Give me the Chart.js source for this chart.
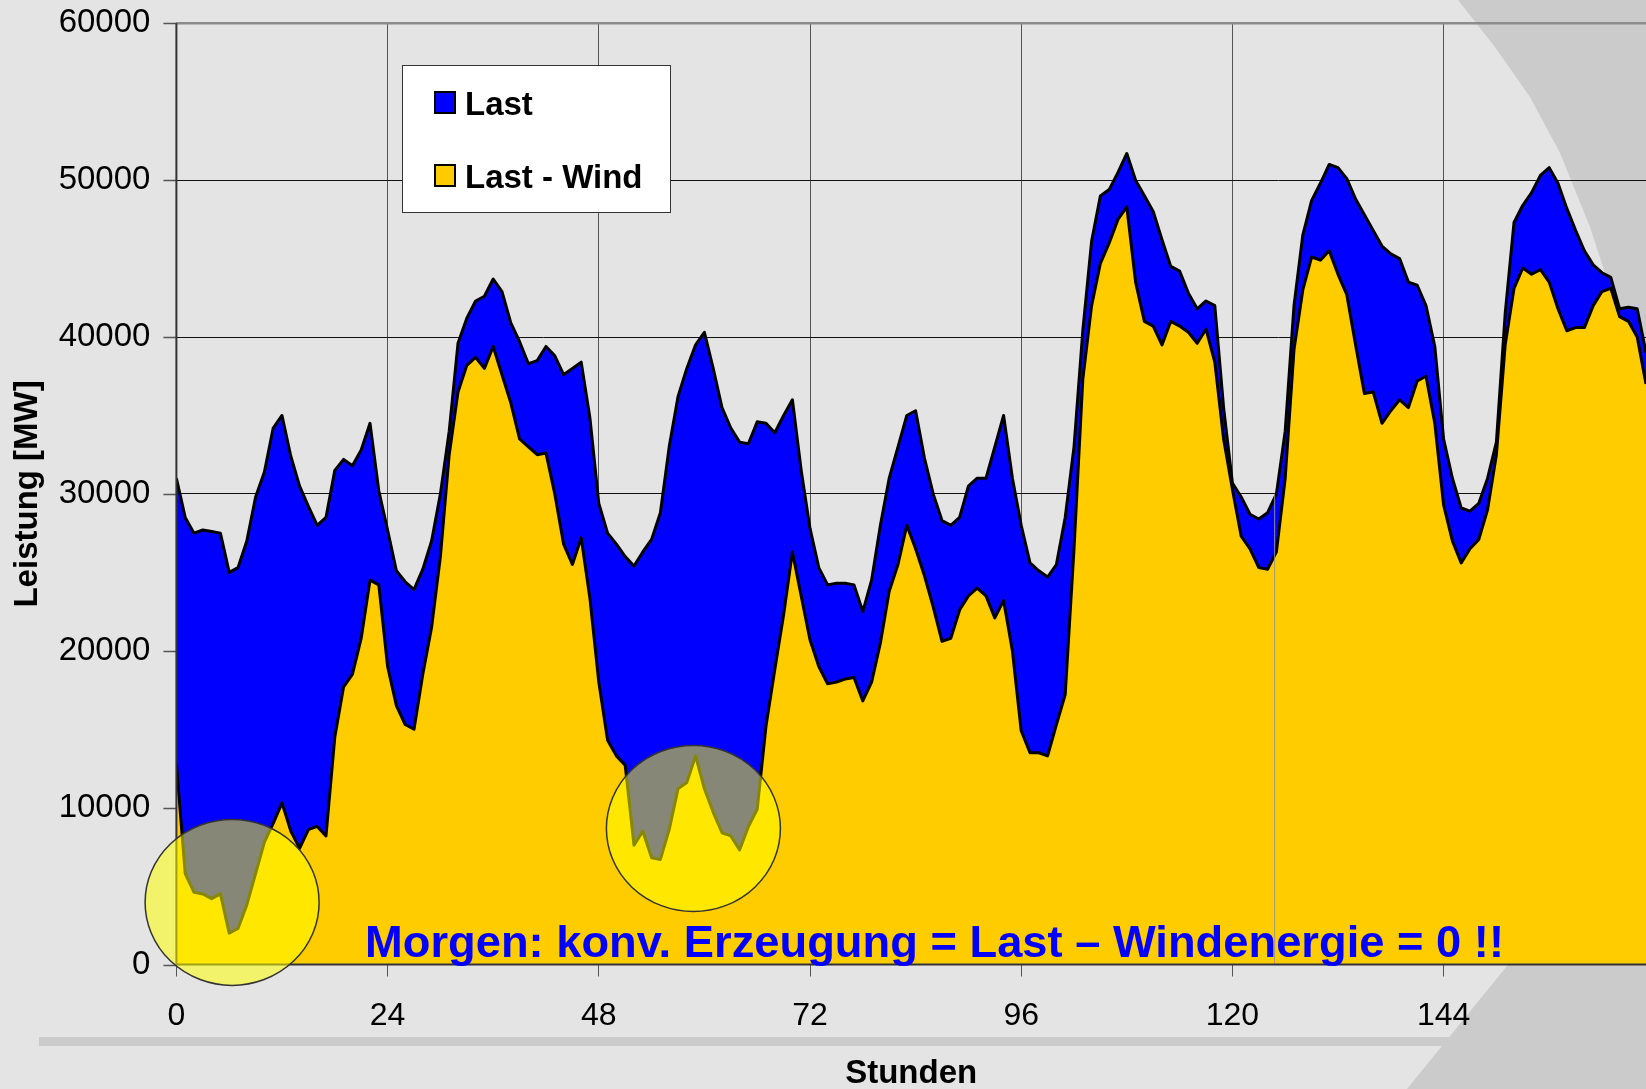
<!DOCTYPE html>
<html>
<head>
<meta charset="utf-8">
<title>Last und Last - Wind</title>
<script src="https://cdn.jsdelivr.net/npm/chart.js@4.4.1/dist/chart.umd.min.js"></script>
<style>
    html, body { margin: 0; padding: 0; background: #e4e4e4; overflow: hidden; }
    #wrap { width: 1646px; height: 1089px; }
</style>
</head>
<body>
<div id="wrap"><canvas id="myChart" width="1646" height="1089"></canvas></div>
<script>
/* globals Chart:false */

// Stundenwerte 0..167, in MW
const last = [
    31000, 28500, 27500, 27700, 27600, 27500, 25000, 25300, 27000, 29800,
    31400, 34200, 35000, 32400, 30500, 29200, 28000, 28500, 31500, 32200,
    31800, 32800, 34500, 30200, 27700, 25100, 24400, 23900, 25200, 27000,
    30000, 34000, 39600, 41200, 42300, 42600, 43700, 42900, 40900, 39700,
    38300, 38500, 39400, 38800, 37600, 38000, 38400, 34800, 29400, 27500,
    26800, 26000, 25400, 26300, 27100, 28800, 33000, 36200, 38000, 39500,
    40300, 38000, 35500, 34200, 33300, 33200, 34600, 34500, 33900, 35000,
    36000, 31500, 27800, 25300, 24200, 24300, 24300, 24200, 22500, 24500,
    28000, 31000, 33000, 35000, 35300, 32300, 30000, 28300, 28000, 28500,
    30500, 31000, 31000, 33000, 35000, 31000, 28000, 25600, 25100, 24700,
    25500, 28500, 33000, 40400, 46100, 49000, 49400, 50500, 51700, 50000,
    49000, 48000, 46200, 44500, 44200, 42800, 41800, 42300, 42000, 35500,
    30700, 29800, 28700, 28400, 28800, 30000, 34000, 42000, 46500, 48700,
    49800, 51000, 50800, 50100, 48800, 47800, 46800, 45800, 45300, 45000,
    43500, 43300, 42000, 39400, 33500, 31000, 29100, 28900, 29400, 31000,
    33300, 41500, 47300, 48400, 49200, 50300, 50800, 49800, 48200, 46800,
    45500, 44600, 44100, 43800, 41800, 41900, 41800, 39000,
];

const lastMinusWind = [
    12800, 5800, 4600, 4500, 4200, 4500, 2000, 2300, 3800, 5800,
    7800, 9000, 10300, 8500, 7400, 8600, 8800, 8200, 14500, 17700,
    18500, 20800, 24500, 24200, 19000, 16500, 15300, 15000, 18500, 21500,
    26000, 32500, 36500, 38200, 38700, 38000, 39400, 37600, 35800, 33500,
    33000, 32500, 32600, 30000, 26800, 25500, 27200, 23300, 18000, 14300,
    13300, 12700, 7600, 8500, 6800, 6700, 8600, 11200, 11600, 13300,
    11200, 9700, 8400, 8200, 7300, 8800, 9900, 15200, 18800, 22300,
    26300, 23500, 20700, 19000, 17900, 18000, 18200, 18300, 16800, 18000,
    20500, 23800, 25500, 28000, 26500, 24800, 22800, 20600, 20800, 22600,
    23500, 24000, 23500, 22100, 23200, 20000, 14900, 13500, 13500, 13300,
    15300, 17200, 26500, 37300, 42000, 44700, 46000, 47500, 48300, 43500,
    41000, 40700, 39500, 41000, 40700, 40300, 39600, 40500, 38400, 33500,
    30300, 27300, 26500, 25300, 25200, 26300, 31000, 39200, 43000, 45100,
    44900, 45500, 44000, 42700, 39500, 36400, 36500, 34500, 35300, 36000,
    35500, 37200, 37500, 34500, 29300, 27000, 25600, 26500, 27100, 29000,
    32500, 39500, 43100, 44400, 44000, 44300, 43500, 41800, 40400, 40600,
    40600, 42000, 42900, 43100, 41300, 41000, 40000, 37000,
];

const xTicks = [0, 24, 48, 72, 96, 120, 144];
const yTicks = [0, 10000, 20000, 30000, 40000, 50000, 60000];
const seriesNames = ["Last", "Last - Wind"];
// circled spots: [hour, MW]
const highlights = [[6.33, 3960], [58.75, 8670]];
const noteText = "Morgen: konv. Erzeugung = Last \u2013 Windenergie = 0 !!";

const FONT = "'Liberation Sans', Arial, Helvetica, sans-serif";
Chart.defaults.font.family = FONT;
Chart.defaults.color = "#000";

// slide background with the grey swoosh at the right
const slideBackground = {
    id: "slideBackground",
    beforeDraw(chart) {
        const { ctx, width, height } = chart;
        ctx.save();
        ctx.fillStyle = "#e4e4e4";
        ctx.fillRect(0, 0, width, height);
        ctx.fillStyle = "#cbcbcb";
        // top right
        ctx.beginPath();
        ctx.moveTo(1458, 0);
        [[1495, 47], [1530, 97], [1560, 153], [1590, 227], [1603, 267],
         [1625, 340], [1646, 420], [1646, 0]].forEach(p => ctx.lineTo(p[0], p[1]));
        ctx.closePath();
        ctx.fill();
        // bottom right
        ctx.beginPath();
        ctx.moveTo(1646, 640);
        [[1600, 820], [1560, 900], [1507, 966], [1407, height], [1646, height]]
            .forEach(p => ctx.lineTo(p[0], p[1]));
        ctx.closePath();
        ctx.fill();
        // bar under the axis labels
        ctx.fillRect(39, 1037, 1421, 9);
        ctx.restore();
    },
};

// axis lines and y tick marks over the filled areas
const axisLines = {
    id: "axisLines",
    afterDatasetsDraw(chart) {
        const { ctx, chartArea, scales } = chart;
        ctx.save();
        // faint seam line seen in the original
        const xs = scales.x.getPixelForValue(124.8);
        ctx.strokeStyle = "rgba(150,150,150,0.9)";
        ctx.lineWidth = 1;
        ctx.beginPath();
        ctx.moveTo(xs, scales.y.getPixelForValue(last[125]));
        ctx.lineTo(xs, chartArea.bottom);
        ctx.stroke();

        // y tick marks
        ctx.strokeStyle = "#555";
        ctx.lineWidth = 1.5;
        ctx.beginPath();
        yTicks.forEach(v => {
            const y = Math.round(scales.y.getPixelForValue(v)) + 0.5;
            ctx.moveTo(chartArea.left - 13, y);
            ctx.lineTo(chartArea.left, y);
        });
        ctx.stroke();

        ctx.strokeStyle = "#333";
        ctx.lineWidth = 2;
        ctx.beginPath();
        ctx.moveTo(chartArea.left, chartArea.top);
        ctx.lineTo(chartArea.left, chartArea.bottom);
        ctx.moveTo(chartArea.left, chartArea.bottom);
        ctx.lineTo(chartArea.right, chartArea.bottom);
        ctx.stroke();
        ctx.restore();
    },
};

// note text, circles, legend box
const overlays = {
    id: "overlays",
    afterDraw(chart) {
        const { ctx, scales } = chart;
        ctx.save();

        // note
        ctx.font = "bold 44px " + FONT;
        ctx.fillStyle = "#0000ff";
        ctx.textBaseline = "alphabetic";
        const w = ctx.measureText(noteText).width;
        ctx.save();
        ctx.translate(365, 957);
        ctx.scale(1139 / w, 1);
        ctx.fillText(noteText, 0, 0);
        ctx.restore();

        // circles
        highlights.forEach(h => {
            const cx = scales.x.getPixelForValue(h[0]);
            const cy = scales.y.getPixelForValue(h[1]);
            ctx.beginPath();
            ctx.ellipse(cx, cy, 87, 83, 0, 0, Math.PI * 2);
            ctx.fillStyle = "rgba(255,255,0,0.53)";
            ctx.fill();
            ctx.strokeStyle = "#333";
            ctx.lineWidth = 1.5;
            ctx.stroke();
        });

        // legend
        ctx.fillStyle = "#fff";
        ctx.fillRect(402, 65, 268, 147);
        ctx.strokeStyle = "#333";
        ctx.lineWidth = 1;
        ctx.strokeRect(402.5, 65.5, 268, 147);
        const ds = chart.data.datasets;
        const rows = [[ds[1], 91, 115], [ds[0], 164, 188]];
        ctx.font = "bold 33px " + FONT;
        rows.forEach(r => {
            ctx.fillStyle = r[0].backgroundColor;
            ctx.fillRect(434, r[1], 22, 23);
            ctx.strokeStyle = "#000";
            ctx.lineWidth = 2;
            ctx.strokeRect(435, r[1] + 1, 20, 21);
            ctx.fillStyle = "#000";
            ctx.fillText(r[0].label, 465, r[2]);
        });
        ctx.restore();
    },
};

const ctx = document.getElementById("myChart");
// eslint-disable-next-line no-unused-vars
const myChart = new Chart(ctx, {
    type: "line",
    data: {
        datasets: [
            {
                label: seriesNames[1],
                data: lastMinusWind.map((v, i) => ({ x: i, y: v })),
                backgroundColor: "#ffcc00",
                borderColor: "#000",
                borderWidth: 3,
                fill: "origin",
                order: 0,
            },
            {
                label: seriesNames[0],
                data: last.map((v, i) => ({ x: i, y: v })),
                backgroundColor: "#0000ff",
                borderColor: "#000",
                borderWidth: 3,
                fill: "origin",
                order: 1,
            },
        ],
    },
    options: {
        responsive: false,
        animation: false,
        events: [],
        layout: { padding: { top: 23.3, right: 0, bottom: 0, left: 0 } },
        elements: {
            point: { radius: 0 },
            line: { tension: 0, borderJoinStyle: "round" },
        },
        plugins: {
            legend: { display: false },
            tooltip: { enabled: false },
        },
        scales: {
            x: {
                type: "linear",
                min: 0,
                max: 167,
                afterBuildTicks: scale => { scale.ticks = xTicks.map(v => ({ value: v })); },
                afterFit: scale => { scale.height = 124.5; },
                border: { display: false },
                grid: {
                    color: "#555",
                    lineWidth: 1,
                    tickLength: 12,
                    tickColor: "#555",
                },
                ticks: {
                    maxRotation: 0,
                    padding: 20,
                    font: { size: 32 },
                    color: "#000",
                    callback: v => String(v),
                },
                title: {
                    display: true,
                    text: "Stunden",
                    font: { size: 33, weight: "bold", lineHeight: 0.9 },
                    padding: { top: 0, bottom: 0 },
                    color: "#000",
                },
            },
            y: {
                min: 0,
                max: 60000,
                afterBuildTicks: scale => { scale.ticks = yTicks.map(v => ({ value: v })); },
                afterFit: scale => { scale.width = 176.4; },
                border: { display: false },
                grid: {
                    color: c => (c.tick && c.tick.value === 60000 ? "#8c8c8c" : "#111"),
                    lineWidth: c => (c.tick && c.tick.value === 60000 ? 2.5 : 1),
                    tickLength: 26,
                    tickColor: "rgba(0,0,0,0)",
                },
                ticks: {
                    padding: 0,
                    font: { size: 33 },
                    color: "#000",
                    callback: v => String(v),
                },
                title: {
                    display: true,
                    text: "Leistung [MW]",
                    font: { size: 33, weight: "bold", lineHeight: 1.2 },
                    padding: { top: 8, bottom: 0 },
                    color: "#000",
                },
            },
        },
    },
    plugins: [slideBackground, axisLines, overlays],
});
</script>
</body>
</html>
